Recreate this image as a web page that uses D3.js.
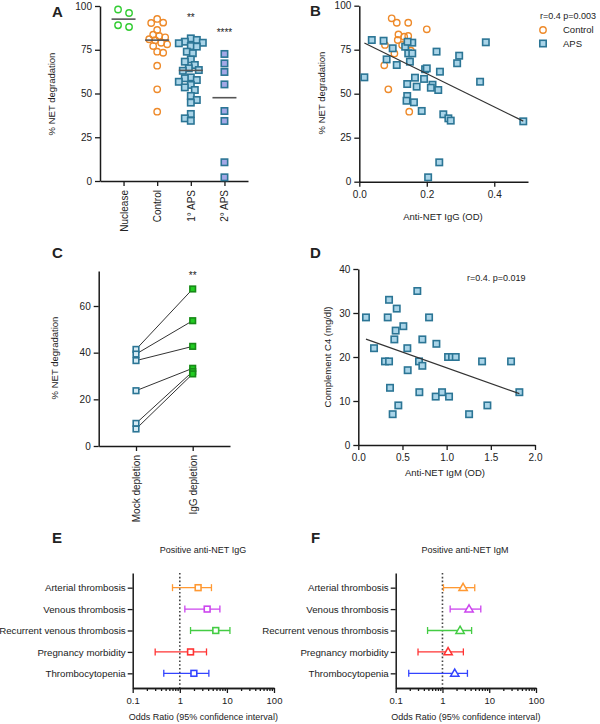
<!DOCTYPE html>
<html><head><meta charset="utf-8">
<script src="https://cdn.jsdelivr.net/npm/d3@7"></script>
<style>
body{margin:0;background:#fff}
text{font-family:"Liberation Sans",Arial,sans-serif;fill:#222}
</style>
</head><body>
<svg id="c" width="600" height="724"></svg>
<script>
// ---------- Panel A ----------
const groupsA = ["Nuclease", "Control", "1° APS", "2° APS"];
const nucleaseA = [98, 96, 89, 88];
const controlA = [92.6, 90.5, 90.3, 86.3, 83.6, 82.9, 82.1, 81.0, 80.5, 79.0, 78.1, 77.1, 73.9, 73.3, 65.9, 52.4, 39.6];
const aps1A = [81.5, 80.6, 79.6, 79.0, 78.7, 77.1, 76.8, 73.9, 73.0, 69.5, 68.2, 66.3, 64.4, 63.4, 63.0, 59.2, 58.7, 57.7, 56.7, 54.9, 53.5, 52.0, 48.6, 46.3, 44.8, 38.3, 35.8, 34.4];
const aps2A = [72.6, 67.2, 62.3, 55.2, 40.0, 34.3, 10.7, 2.1];
const starsA = ["", "", "**", "****"];
const yTicksA = [0, 25, 50, 75, 100];

// ---------- Panel B ----------
const bControlX = [0.096, 0.111, 0.145, 0.200, 0.116, 0.133, 0.145, 0.114, 0.127, 0.076, 0.153, 0.104, 0.074, 0.086, 0.148];
const bControlY = [92.8, 90.3, 90.3, 86.6, 83.7, 82.4, 82.8, 80.5, 77.7, 77.7, 74.4, 72.9, 66.1, 52.5, 39.8];
const bApsX = [0.037, 0.072, 0.099, 0.136, 0.157, 0.143, 0.145, 0.157, 0.081, 0.111, 0.150, 0.229, 0.296, 0.290, 0.195, 0.200, 0.239, 0.375, 0.015, 0.165, 0.192, 0.142, 0.170, 0.217, 0.212, 0.234, 0.358, 0.142, 0.140, 0.162, 0.185, 0.249, 0.264, 0.271, 0.237, 0.204, 0.486];
const bApsY = [80.5, 80.1, 75.8, 76.7, 79.0, 79.5, 72.9, 72.9, 69.5, 66.3, 68.2, 73.9, 71.6, 67.3, 63.9, 64.4, 62.5, 79.2, 59.3, 59.1, 58.4, 55.5, 54.0, 55.1, 53.4, 52.1, 56.8, 48.7, 46.0, 45.1, 40.2, 38.3, 36.0, 34.7, 11.0, 2.5, 34.3];
const fitB = [80.2, -94.2]; // intercept, slope
const legendB = ["Control", "APS"];
const statB = "r=0.4 p=0.003";
const xTicksB = [0, 0.2, 0.4];

// ---------- Panel C ----------
const groupsC = ["Mock depletion", "IgG depletion"];
const mockC = [41.4, 39.4, 36.6, 23.7, 9.7, 7.3];
const iggC = [67.3, 53.7, 42.7, 33.3, 31.9, 30.9];
const yTicksC = [0, 20, 40, 60];

// ---------- Panel D ----------
const dX = [0.087, 0.178, 0.302, 0.348, 0.348, 0.333, 0.359, 0.408, 0.423, 0.435, 0.453, 0.389, 0.510, 0.555, 0.559, 0.668, 0.687, 0.691, 0.725, 0.725, 0.801, 0.884, 0.876, 0.948, 1.016, 1.061, 1.103, 1.027, 1.254, 1.401, 1.461, 1.729, 1.823];
const dY = [29, 22, 19, 19, 33, 29, 13, 24, 26, 31, 9, 7, 27, 22, 17, 35, 19, 12, 18, 24, 29, 23, 11, 12, 20, 20, 20, 11, 7, 19, 9, 19, 12];
const fitD = [24.68, -7.14];
const statD = "r=0.4. p=0.019";
const xTicksD = [0, 0.5, 1, 1.5, 2];
const yTicksD = [0, 10, 20, 30, 40];

// ---------- Panels E / F ----------
const outcomes = ["Arterial thrombosis", "Venous thrombosis", "Recurrent venous thrombosis", "Pregnancy morbidity", "Thrombocytopenia"];
const outcomeColors = ["#ff9933", "#cc44ee", "#44cc44", "#ff3333", "#3344ff"];
const orE = [2.45, 3.81, 5.8, 1.69, 1.99];
const loE = [0.70, 1.28, 1.69, 0.30, 0.457];
const hiE = [4.7, 7.1, 11.6, 3.69, 4.14];
const orF = [2.76, 3.7, 2.38, 1.32, 1.83];
const loF = [1.05, 1.46, 0.48, 0.30, 0.19];
const hiF = [4.9, 6.6, 4.2, 2.8, 3.42];
const logMajor = [0.1, 1, 10, 100];
const titleE = "Positive anti-NET IgG";
const titleF = "Positive anti-NET IgM";
const xTitleEF = "Odds Ratio (95% confidence interval)";

// ===== drawing =====
const svg = d3.select("#c");
const FONT = "Liberation Sans, Arial, sans-serif";
const AX = "#1a1a1a";
const APS_STROKE = "#2b7595";
const APS_FILL = "#a9d4e8";

function styleAxis(g, fs) {
  g.select(".domain").attr("stroke", AX).attr("stroke-width", 1.5);
  g.selectAll(".tick line").attr("stroke", AX).attr("stroke-width", 1.3);
  g.selectAll(".tick text").attr("font-size", fs || 10).attr("fill", "#222").attr("font-family", FONT);
}
function panelLetter(t, x, y) {
  svg.append("text").attr("x", x).attr("y", y).attr("font-size", 15).attr("font-weight", "bold").attr("fill", "#111").text(t);
}
function vLabel(t, x, y, fs) {
  svg.append("text").attr("transform", `translate(${x},${y}) rotate(-90)`).attr("text-anchor", "middle")
    .attr("font-size", fs || 9.5).text(t);
}
function hLabel(t, x, y, fs) {
  svg.append("text").attr("x", x).attr("y", y).attr("text-anchor", "middle").attr("font-size", fs || 9.5).text(t);
}
function square(sel, cx, cy, s, fill, stroke) {
  sel.append("rect").attr("x", cx - s / 2).attr("y", cy - s / 2).attr("width", s).attr("height", s)
    .attr("fill", fill).attr("stroke", stroke).attr("stroke-width", 1.6);
}
// compact beeswarm: offsets chosen so markers overlap at most slightly
function swarm(values, ys, diam, maxOff, noCenter) {
  const order = values.map((v, i) => i).sort((a, b) => values[b] - values[a]);
  const placed = []; const off = new Array(values.length).fill(0);
  const stepSz = noCenter ? diam / 2 : diam / 3;
  order.forEach((i, n) => {
    const y = ys(values[i]);
    const sgn = n % 2 ? 1 : -1;
    const cands = noCenter ? [] : [0];
    for (let k = 1; k < 40; k++) { cands.push(sgn * k * stepSz, -sgn * k * stepSz); }
    let chosen = null;
    for (const c of cands) {
      if (Math.abs(c) > maxOff) continue;
      if (placed.every(p => (p.x - c) ** 2 + (p.y - y) ** 2 >= diam * diam)) { chosen = c; break; }
    }
    if (chosen === null) {
      let best = 0, bestD = -1;
      for (const c of cands) {
        if (Math.abs(c) > maxOff) continue;
        const dmin = d3.min(placed, p => (p.x - c) ** 2 + (p.y - y) ** 2);
        if (dmin > bestD) { bestD = dmin; best = c; }
      }
      chosen = best;
    }
    off[i] = chosen; placed.push({ x: chosen, y });
  });
  return off;
}

// ----- Panel A -----
(function () {
  const y = d3.scaleLinear().domain([0, 100]).range([181, 6]);
  const x = d3.scalePoint().domain(groupsA).range([100, 248]).padding(0.7);
  const g = svg.append("g");
  const ya = g.append("g").attr("transform", "translate(100,0)").call(d3.axisLeft(y).tickValues(yTicksA).tickSize(5).tickSizeOuter(0).tickPadding(3));
  styleAxis(ya);
  const xa = g.append("g").attr("transform", "translate(0,181)").call(d3.axisBottom(x).tickSize(5).tickSizeOuter(0));
  styleAxis(xa);
  xa.selectAll(".tick text").attr("transform", "rotate(-90)").attr("text-anchor", "end").attr("x", -9).attr("y", 0).attr("dy", "0.35em").attr("font-size", 10);
  vLabel("% NET degradation", 55, 94);
  panelLetter("A", 52, 17);

  const sets = [nucleaseA, controlA, aps1A, aps2A];
  sets.forEach((vals, gi) => {
    const cx = x(groupsA[gi]);
    const off = gi === 0 ? swarm(vals, y, 11, 6, true) : swarm(vals, y, 6, 12, false);
    vals.forEach((v, i) => {
      if (gi < 2) {
        g.append("circle").attr("cx", cx + off[i]).attr("cy", y(v)).attr("r", 3.2).attr("fill", "none")
          .attr("stroke", gi === 0 ? "#33cc33" : "#ee8a2a").attr("stroke-width", 1.4);
      } else {
        square(g, cx + off[i], y(v), 6.4, gi === 2 ? APS_FILL : "#a3a8e6", APS_STROKE);
      }
    });
    const med = d3.median(vals);
    g.append("line").attr("x1", cx - 12).attr("x2", cx + 12).attr("y1", y(med)).attr("y2", y(med)).attr("stroke", "#555").attr("stroke-width", 1.6);
  });
  starsA.forEach((s, gi) => {
    if (!s) return;
    g.append("text").attr("x", x(groupsA[gi])).attr("y", gi === 2 ? 21 : 36).attr("text-anchor", "middle").attr("font-size", 10).attr("fill", "#333").text(s);
  });
})();

// ----- Panel B -----
(function () {
  const x = d3.scaleLinear().domain([0, 0.5]).range([359.3, 528]);
  const y = d3.scaleLinear().domain([0, 100]).range([181.7, 5.7]);
  const g = svg.append("g");
  const ya = g.append("g").attr("transform", "translate(359.3,0)").call(d3.axisLeft(y).tickValues(yTicksA).tickSize(5).tickSizeOuter(0).tickPadding(3));
  styleAxis(ya);
  const xa = g.append("g").attr("transform", "translate(0,181.7)").call(d3.axisBottom(x).tickValues(xTicksB).tickFormat(d3.format(".1f")).tickSize(5).tickSizeOuter(0).tickPadding(4));
  styleAxis(xa);
  vLabel("% NET degradation", 325, 93);
  hLabel("Anti-NET IgG (OD)", 443, 220);
  panelLetter("B", 310, 16);

  bControlX.forEach((v, i) => {
    g.append("circle").attr("cx", x(v)).attr("cy", y(bControlY[i])).attr("r", 3.2).attr("fill", "none").attr("stroke", "#ee8a2a").attr("stroke-width", 1.4);
  });
  bApsX.forEach((v, i) => square(g, x(v), y(bApsY[i]), 6.4, APS_FILL, APS_STROKE));
  const x0 = d3.min(bApsX), x1 = d3.max(bApsX);
  g.append("line").attr("x1", x(x0)).attr("x2", x(x1)).attr("y1", y(fitB[0] + fitB[1] * x0)).attr("y2", y(fitB[0] + fitB[1] * x1))
    .attr("stroke", "#333").attr("stroke-width", 1.2);

  g.append("text").attr("x", 540).attr("y", 19).attr("font-size", 9).text(statB);
  g.append("circle").attr("cx", 543).attr("cy", 30).attr("r", 3.2).attr("fill", "none").attr("stroke", "#ee8a2a").attr("stroke-width", 1.4);
  square(g, 543, 43.5, 6.4, APS_FILL, APS_STROKE);
  legendB.forEach((t, i) => g.append("text").attr("x", 563).attr("y", 33 + i * 13.5).attr("font-size", 9.5).text(t));
})();

// ----- Panel C -----
(function () {
  const y = d3.scaleLinear().domain([0, 75]).range([446, 271]);
  const x = d3.scalePoint().domain(groupsC).range([98.7, 230]).padding(0.658);
  const g = svg.append("g");
  const ya = g.append("g").attr("transform", "translate(98.7,0)").call(d3.axisLeft(y).tickValues(yTicksC).tickSize(5).tickSizeOuter(0).tickPadding(3));
  styleAxis(ya);
  const xa = g.append("g").attr("transform", "translate(0,446)").call(d3.axisBottom(x).tickSize(5).tickSizeOuter(0));
  styleAxis(xa);
  xa.selectAll(".tick text").attr("transform", "rotate(-90)").attr("text-anchor", "end").attr("x", -9).attr("y", 0).attr("dy", "0.35em").attr("font-size", 10);
  vLabel("% NET degradation", 58, 358);
  panelLetter("C", 52, 258);
  mockC.forEach((v, i) => {
    g.append("line").attr("x1", x(groupsC[0])).attr("x2", x(groupsC[1])).attr("y1", y(v)).attr("y2", y(iggC[i])).attr("stroke", "#333").attr("stroke-width", 1);
  });
  mockC.forEach(v => square(g, x(groupsC[0]), y(v), 5.6, "#d6ebf5", APS_STROKE));
  iggC.forEach(v => square(g, x(groupsC[1]), y(v), 5.6, "#22cc22", "#178a17"));
  g.append("text").attr("x", x(groupsC[1])).attr("y", 279).attr("text-anchor", "middle").attr("font-size", 10).attr("fill", "#334").text("**");
})();

// ----- Panel D -----
(function () {
  const x = d3.scaleLinear().domain([0, 2]).range([358.3, 535]);
  const y = d3.scaleLinear().domain([0, 40]).range([445, 269]);
  const g = svg.append("g");
  const ya = g.append("g").attr("transform", "translate(358.3,0)").call(d3.axisLeft(y).tickValues(yTicksD).tickSize(5).tickSizeOuter(0).tickPadding(3));
  styleAxis(ya);
  const xa = g.append("g").attr("transform", "translate(0,445)").call(d3.axisBottom(x).tickValues(xTicksD).tickFormat(d3.format(".1f")).tickSize(5).tickSizeOuter(0).tickPadding(4));
  styleAxis(xa);
  vLabel("Complement C4 (mg/dl)", 331, 357);
  hLabel("Anti-NET IgM (OD)", 445, 476);
  panelLetter("D", 310, 258);
  dX.forEach((v, i) => square(g, x(v), y(dY[i]), 6.4, APS_FILL, APS_STROKE));
  const x0 = d3.min(dX), x1 = d3.max(dX);
  g.append("line").attr("x1", x(x0)).attr("x2", x(x1)).attr("y1", y(fitD[0] + fitD[1] * x0)).attr("y2", y(fitD[0] + fitD[1] * x1))
    .attr("stroke", "#333").attr("stroke-width", 1.2);
  g.append("text").attr("x", 467).attr("y", 281).attr("font-size", 9).text(statD);
})();

// ----- Panels E / F -----
function forest(left, right, ors, los, his, title, titleX, letter, letterX, tri) {
  const x = d3.scaleLog().domain([0.1, 100]).range([left, right]);
  const y = d3.scalePoint().domain(outcomes).range([573, 688]).padding(0.685);
  const g = svg.append("g");
  const minors = [];
  [0.1, 1, 10].forEach(b => { for (let k = 2; k <= 9; k++) minors.push(b * k); });
  const xm = g.append("g").attr("transform", "translate(0,688)").call(d3.axisBottom(x).tickValues(minors).tickSize(3).tickFormat("").tickSizeOuter(0));
  styleAxis(xm);
  const xa = g.append("g").attr("transform", "translate(0,688)").call(d3.axisBottom(x).tickValues(logMajor).tickFormat(d => String(d)).tickSize(5).tickSizeOuter(0).tickPadding(4));
  styleAxis(xa, 9.5);
  const ya = g.append("g").attr("transform", `translate(${left},0)`).call(d3.axisLeft(y).tickSize(5).tickSizeOuter(0).tickPadding(2));
  styleAxis(ya, 9.7);
  g.append("line").attr("x1", x(1)).attr("x2", x(1)).attr("y1", 573).attr("y2", 688).attr("stroke", "#444").attr("stroke-width", 1.6).attr("stroke-dasharray", "1.6,2.2");
  outcomes.forEach((o, i) => {
    const c = outcomeColors[i], yy = y(o);
    g.append("line").attr("x1", x(los[i])).attr("x2", x(his[i])).attr("y1", yy).attr("y2", yy).attr("stroke", c).attr("stroke-width", 1.3);
    [los[i], his[i]].forEach(v => g.append("line").attr("x1", x(v)).attr("x2", x(v)).attr("y1", yy - 3.5).attr("y2", yy + 3.5).attr("stroke", c).attr("stroke-width", 1.3));
    if (tri) {
      g.append("path").attr("d", d3.symbol(d3.symbolTriangle, 30)()).attr("transform", `translate(${x(ors[i])},${yy + 0.5})`)
        .attr("fill", "#fff").attr("stroke", c).attr("stroke-width", 1.5);
    } else {
      square(g, x(ors[i]), yy, 5.8, "#fff", c);
    }
  });
  hLabel(title, titleX, 553, 9);
  hLabel(xTitleEF, (left + right) / 2, 720, 9);
  panelLetter(letter, letterX, 543);
}
forest(132.7, 274, orE, loE, hiE, titleE, 203, "E", 52, false);
forest(395.7, 536, orF, loF, hiF, titleF, 465, "F", 311, true);
</script>
</body></html>
